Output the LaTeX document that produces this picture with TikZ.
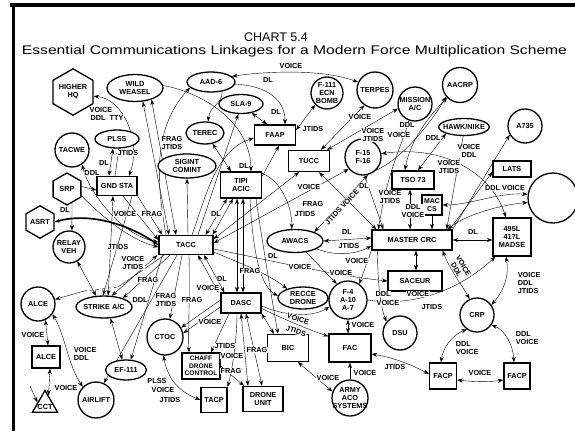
\documentclass[tikz,border=0pt]{standalone}
\usepackage{graphicx}
\usepackage{fontspec}
\setmainfont{Liberation Sans}
\usetikzlibrary{shapes.geometric,arrows.meta}
\pgfdeclarelayer{bg}
\pgfsetlayers{bg,main}
\begin{document}
\begin{tikzpicture}[x=1pt,y=-1pt,line width=0.9pt,
  >={Stealth[length=5.5pt,width=4pt]},
  every node/.style={inner sep=0pt,align=center,font=\fontsize{7.3}{8}\selectfont\bfseries},
  shp/.style={draw,line width=1.3pt,fill=white},
  box/.style={shp,rectangle},
  circ/.style={shp,circle},
  ell/.style={shp,ellipse},
  hexa/.style={shp,regular polygon,regular polygon sides=6,shape border rotate=30},
  tri/.style={shp,regular polygon,regular polygon sides=3},
  lab/.style={fill=white,inner sep=0.6pt},
  ttl/.style={font=\fontsize{12.5}{14}\selectfont\mdseries},
  boldline/.style={line width=1.7pt}
]
\path[use as bounding box] (0,0) rectangle (575,431);
\clip (0,0) rectangle (575,431);

% frame
\draw[line width=4pt] (10,5) -- (575,5);
\draw[line width=3pt] (13.5,3) -- (13.5,431);

% title
\node[ttl] (title1) at (276,37) {CHART 5.4};
\node[ttl] (title2) at (294.5,51) {\resizebox{545pt}{\height}{Essential Communications Linkages for a Modern Force Multiplication Scheme}};

% ---------- stations ----------
\node[hexa,minimum size=37pt] (hq) at (73,92) {HIGHER\\HQ};
\node[ell,minimum width=56pt,minimum height=27pt] (ww) at (135,88) {WILD\\WEASEL};
\node[ell,minimum width=44pt,minimum height=18pt] (plss) at (117,139) {PLSS};
\node[circ,minimum size=34pt] (tacwe) at (72,150) {TACWE};
\node[box,minimum width=40pt,minimum height=19pt] (gnd) at (117,186) {GND STA};
\node[hexa,minimum size=32pt] (srp) at (67,189) {SRP};
\node[hexa,minimum size=30pt] (asrt) at (40,222) {ASRT};
\node[circ,minimum size=32pt] (relay) at (69,247) {RELAY\\VEH};
\node[box,minimum width=54pt,minimum height=19pt] (tacc) at (186,245) {TACC};
\node[circ,minimum size=34pt] (alce) at (38,304) {ALCE};
\node[ell,minimum width=56pt,minimum height=22pt,inner sep=-2pt] (strike) at (104,307) {STRIKE A/C};
\node[box,minimum width=28pt,minimum height=22pt] (alcebox) at (46,357) {ALCE};
\node[tri,minimum size=29pt,label={[yshift=-2pt]center:CCT}] (cct) at (45,405) {};
\node[circ,minimum size=36pt] (airlift) at (96,400) {AIRLIFT};
\node[ell,minimum width=41pt,minimum height=20pt] (ef) at (126,370) {EF-111};
\node[circ,minimum size=36pt] (ctoc) at (165,337) {CTOC};
\node[box,minimum width=38pt,minimum height=26pt,font=\fontsize{6.6}{7.6}\selectfont\bfseries] (chaff) at (201,366) {CHAFF\\DRONE\\CONTROL};
\node[box,minimum width=26pt,minimum height=25pt] (tacp) at (214,400) {TACP};
\node[box,minimum width=40pt,minimum height=25pt] (drone) at (263,399) {DRONE\\UNIT};
\node[box,minimum width=40pt,minimum height=20pt] (dasc) at (241,303) {DASC};
\node[box,minimum width=41pt,minimum height=27pt] (bic) at (288,348) {BIC};
\node[box,minimum width=42pt,minimum height=28pt] (fac) at (350,348) {FAC};
\node[circ,minimum size=36pt,inner sep=-4pt] (army) at (350,398) {ARMY\\ACO\\SYSTEMS};
\node[ell,minimum width=50pt,minimum height=22pt] (recce) at (303,298) {RECCE\\DRONE};
\node[circ,minimum size=38pt] (f4) at (348,300) {F-4\\A-10\\A-7};
\node[ell,minimum width=56pt,minimum height=23pt] (awacs) at (295,241) {AWACS};
\node[box,minimum width=41pt,minimum height=26pt] (tipi) at (241,185) {TIPI\\ACIC};
\node[ell,minimum width=48pt,minimum height=20pt] (aad) at (211,82) {AAD-6};
\node[ell,minimum width=44pt,minimum height=19pt] (sla) at (241,104) {SLA-9};
\node[ell,minimum width=38pt,minimum height=22pt] (terec) at (205,133) {TEREC};
\node[ell,minimum width=58pt,minimum height=24pt] (sigint) at (187,166) {SIGINT\\COMINT};
\node[box,minimum width=41pt,minimum height=20pt] (faap) at (275,135) {FAAP};
\node[circ,minimum size=32pt,inner sep=-1pt] (f111) at (327,93) {F-111\\ECN\\BOMB};
\node[circ,minimum size=36pt] (terpes) at (375,90) {TERPES};
\node[box,minimum width=41pt,minimum height=21pt] (tucc) at (309,161) {TUCC};
\node[circ,minimum size=36pt] (f15) at (363,157) {F-15\\F-16};
\node[circ,minimum size=34pt,inner sep=-2pt] (mission) at (415,104) {MISSION\\A/C};
\node[circ,minimum size=35pt] (aacrp) at (460,85) {AACRP};
\node[ell,minimum width=50pt,minimum height=17pt,inner sep=-3pt] (hawk) at (464,127) {HAWK/NIKE};
\node[circ,minimum size=34pt] (a735) at (525,126) {A735};
\node[box,minimum width=38pt,minimum height=16pt] (lats) at (512,169) {LATS};
\node[box,minimum width=42pt,minimum height=18pt] (tso) at (413,180) {TSO 73};
\node[box,minimum width=20pt,minimum height=20pt,font=\fontsize{7}{7.6}\selectfont\bfseries] (mac) at (432,205) {MAC\\CS};
\node[box,minimum width=80pt,minimum height=20pt] (master) at (412,240) {MASTER CRC};
\node[box,minimum width=38pt,minimum height=38pt] (madse) at (512,237) {495L\\417L\\MADSE};
\node[box,minimum width=54pt,minimum height=20pt] (saceur) at (415,281) {SACEUR};
\node[circ,minimum size=50pt] (big) at (553,198) {};
\node[circ,minimum size=34pt] (crp) at (477,315) {CRP};
\node[circ,minimum size=34pt] (dsu) at (400,333) {DSU};
\node[box,minimum width=27pt,minimum height=26pt] (facp1) at (443,376) {FACP};
\node[box,minimum width=26pt,minimum height=26pt] (facp2) at (517,376) {FACP};

\coordinate (cctin) at (30,386);
\coordinate (d1) at (84,291);
\coordinate (d2) at (118,287);

% ---------- links ----------
\begin{pgfonlayer}{bg}
\fill[white] (0,0) rectangle (575,431);
% upper left group
\draw[<->] (hq.-12) .. controls (122,98) and (142,140) .. ([xshift=12pt]gnd.north);
\draw[<->] (ww.-60) -- ([xshift=-17pt]tacc.north);
\draw[<->] (ww.-35) -- ([xshift=-10pt]tacc.north);
\draw[->] ([xshift=-20pt]tacc.north) .. controls (158,190) and (150,130) .. (aad.-165);
\draw[<->] ([xshift=-4pt]plss.south) -- ([xshift=-8pt]gnd.north);
\draw[->] ([xshift=-2pt]gnd.north) -- ([xshift=2pt]plss.south);
\draw[<->] (tacwe.-55) .. controls (88,190) and (120,235) .. ([yshift=3pt]tacc.west);
\draw[->] (srp.10) -- ([yshift=-4pt]gnd.west);
\draw[->] (srp.-25) .. controls (100,215) and (130,240) .. ([yshift=-2pt]tacc.west);
\draw[<->,boldline] (asrt.east) .. controls (90,212) and (130,225) .. (tacc.west);
\draw[->] (srp.-70) -- (relay.80);
\draw[<->] (relay.-60) -- (strike.125);
\draw[->] (d1) -- (alce.15);
\draw[dashed] (d1) -- (d2);
\draw (d2) -- ([xshift=6pt]tacc.south west);
\draw[<->] ([xshift=-4pt]gnd.south) -- (strike.70);
\draw[->] ([xshift=15pt]gnd.south) -- (strike.95);
\draw[->] ([xshift=6pt]gnd.south) -- ([yshift=5pt]tacc.west);
\draw[->] (gnd.south east) -- ([xshift=4pt]tacc.north west);
\draw[<->] ([xshift=-1pt]tacc.south west) -- (strike.55);
\draw[->] ([xshift=-16pt]tacc.south) -- (strike.25);
\draw[->] ([xshift=-9pt]tacc.south) -- (airlift.65);
\draw[->] ([xshift=4pt]tacc.south west) -- (ef.65);
\draw[<->] (strike.-60) -- (ef.110);
\draw[->] ([xshift=-4pt]tacc.south) -- (ctoc.75);
\draw[->] ([xshift=3pt]tacc.south) .. controls (190,300) and (188,330) .. ([xshift=-12pt]chaff.north);
\draw[<->] ([xshift=12pt]tacc.south) -- ([xshift=-2pt]dasc.north west);
\draw[<->] ([xshift=18pt]tacc.south) -- ([xshift=4pt]dasc.north west);
\draw[<->] ([xshift=-14pt]tipi.south) -- ([xshift=-8pt]tacc.north east);
\draw[<->] ([xshift=-8pt]tipi.south) -- ([xshift=-1pt]tacc.north east);
\draw[->] ([xshift=2pt]tacc.north) -- (sigint.-90);
\draw[<->] (terec.-55) -- ([xshift=-10pt]tipi.north);
\draw[->] ([xshift=12pt]tacc.north) -- (sla.-105);
\draw[->] ([xshift=6pt]tacc.north) .. controls (205,200) and (215,150) .. ([yshift=-3pt]faap.west);
\draw[->] (ww.5) .. controls (200,92) and (250,120) .. ([xshift=10pt]tipi.north);
% top row
\draw[<->] (aad.15) .. controls (260,72) and (320,68) .. (terpes.155);
\draw[->] (aad.-5) .. controls (268,86) and (285,100) .. ([xshift=10pt]faap.north);
\draw[->] (aad.-40) .. controls (222,105) and (210,105) .. (terec.75);
\draw[<->] (sla.-40) -- ([xshift=-8pt]faap.north);
\draw[<->] ([yshift=5pt]faap.east) -- (f111.-135);
\draw[->] ([yshift=-5pt]tipi.north east) -- ([xshift=4pt]faap.south);
\draw[->] ([yshift=-2pt]tipi.north east) .. controls (280,180) and (292,205) .. (awacs.105);
\draw[<->] ([xshift=12pt]tucc.north) -- (terpes.-125);
\draw[<->] ([xshift=18pt]tucc.north) -- (mission.-165);
% centre
\draw[<->] ([yshift=6pt]tacc.east) -- ([xshift=-10pt]tucc.south);
\draw[<->] ([yshift=2pt]tacc.east) -- (f15.-140);
\draw[<->] (awacs.25) -- (f15.-75);
\draw[<->] (awacs.east) -- ([yshift=2pt]master.west);
\draw[->] ([yshift=-4pt]tacc.east) .. controls (260,258) and (330,275) .. (saceur.west);
\draw[->] (awacs.-20) .. controls (340,258) and (360,252) .. ([yshift=-6pt]master.west);
\draw[->] (awacs.-45) -- (f4.125);
\draw[->] (master.south west) -- (f4.55);
\draw[<->] ([xshift=10pt]tucc.south) -- ([xshift=5pt]master.north west);
\draw[->] (f15.-85) -- ([xshift=12pt]master.north west);
\draw[<->] ([xshift=-3pt]tso.south) -- ([xshift=-2pt]master.north);
\draw[->] (mac.south) -- ([xshift=20pt]master.north);
% upper right
\draw[<->] (hawk.-160) -- ([xshift=5pt]tso.north);
\draw[->] (hawk.-95) -- ([xshift=-6pt]master.north east);
\draw[->] (master.north east) -- (a735.-150);
\draw[->] ([xshift=-3pt]master.north east) -- ([yshift=-3pt]lats.west);
\draw[<->] (mission.-110) .. controls (400,150) and (388,170) .. ([xshift=7pt]master.north west);
\draw[<->] ([xshift=-8pt]tso.north) .. controls (410,140) and (430,115) .. (aacrp.-135);
\draw[->] (f15.-45) .. controls (400,160) and (430,125) .. (aacrp.-140);
\draw[<->] (f15.10) .. controls (440,145) and (490,170) .. ([xshift=-6pt]madse.north);
\draw[<->] (big.172) .. controls (500,192) and (470,205) .. (mac.east);
\draw[<->] (big.190) .. controls (500,205) and (465,215) .. ([xshift=-5pt]master.north east);
\draw[<->] (master.east) -- (madse.west |- master.east);
% lower right
\draw[<->] ([xshift=-6pt]madse.south) .. controls (510,280) and (500,295) .. (crp.35);
\draw[<->] ([xshift=-10pt]master.south east) .. controls (450,270) and (462,285) .. (crp.115);
\draw[->] (f4.0) .. controls (420,308) and (465,285) .. ([xshift=3pt]madse.south west);
\draw[->] ([xshift=6pt]master.south west) .. controls (378,285) and (380,305) .. (dsu.140);
\draw[<->] ([xshift=4pt]master.south) -- ([xshift=1pt]saceur.north);
\draw[<->] (f4.-90) -- ([xshift=-2pt]fac.north);
\draw[->] (army.90) -- (fac.south);
\draw[<->] ([xshift=10pt]bic.south) -- (army.160);
\draw[<->] ([yshift=-6pt]fac.east) .. controls (395,358) and (412,365) .. ([yshift=2pt]facp1.west);
\draw[<->] ([yshift=-4pt]facp1.east) .. controls (475,382) and (490,382) .. ([yshift=-4pt]facp2.west);
\draw[<->] ([xshift=-2pt]facp1.north) .. controls (443,348) and (452,335) .. (crp.-125);
\draw[<->] ([xshift=-3pt]facp2.north) .. controls (513,345) and (505,330) .. (crp.-35);
% lower centre
\draw[->] ([yshift=3pt]dasc.west) -- (ctoc.30);
\draw[->] ([yshift=-4pt]dasc.west) -- (ctoc.12);
\draw[->] ([xshift=-12pt]dasc.south) -- ([xshift=10pt]chaff.north);
\draw[->] ([xshift=-4pt]dasc.south) .. controls (237,340) and (232,370) .. (tacp.north east);
\draw[<->] (dasc.south) -- ([xshift=-15pt]drone.north);
\draw[<->] ([xshift=5pt]dasc.south) -- ([xshift=-1pt]drone.north);
\draw[->] (chaff.east) -- ([xshift=-19pt]drone.north);
\draw[<->] (ctoc.-95) .. controls (168,380) and (180,392) .. (tacp.west);
\draw[->] ([yshift=-7pt]tacc.east) .. controls (245,265) and (270,275) .. (recce.150);
\draw[<->] ([xshift=-4pt]tipi.south) -- ([xshift=-4pt]dasc.north);
\draw[<->] ([xshift=2pt]tipi.south) -- ([xshift=2pt]dasc.north);
\draw[->] ([xshift=9pt]tipi.south) .. controls (252,240) and (258,285) .. (recce.175);
\draw[->] ([xshift=15pt]tipi.south) .. controls (262,240) and (272,300) .. ([xshift=-10pt]bic.north);
\draw[<->] (dasc.south east) -- ([xshift=-14pt]bic.north);
\draw[->] ([yshift=-3pt]dasc.east) .. controls (290,318) and (315,316) .. (f4.-160);
\draw[->] (dasc.-15) .. controls (290,322) and (310,330) .. ([yshift=-3pt]fac.north west);
% far left
\draw[<->] (alce.-65) -- ([xshift=2pt]alcebox.north);
\draw[<->] ([xshift=4pt]alcebox.south) -- (cct.70);
\draw[->] (cctin) -- (cct.160);
\draw[<->] (alce.-35) .. controls (65,335) and (68,365) .. (airlift.135);
\end{pgfonlayer}

% ---------- link labels ----------
\node[lab] (l1) at (101,110) {VOICE};
\node[lab] (l2) at (107,118) {DDL\ \ TTY};
\node[lab,align=left] (l3) at (172,143) {FRAG\\JTIDS};
\node[lab] (l4) at (128,153) {JTIDS};
\node[lab] (l5) at (104,163) {DL};
\node[lab] (l6) at (92,173) {DDL};
\node[lab] (l7) at (125,214) {VOICE};
\node[lab] (l8) at (152,214) {FRAG};
\node[lab] (l9) at (65,210) {DL};
\node[lab] (l10) at (118,247) {JTIDS};
\node[lab] (l11) at (133,263) {VOICE\\JTIDS};
\node[lab] (l12) at (148,280) {FRAG};
\node[lab] (l13) at (140,300) {DDL};
\node[lab] (l14) at (166,300) {FRAG\\JTIDS};
\node[lab] (l15) at (192,300) {FRAG};
\node[lab] (l16) at (216,214) {DL};
\node[lab] (l17) at (244,166) {DL};
\node[lab] (l18) at (222,279) {DL};
\node[lab] (l19) at (208,288) {VOICE};
\node[lab] (l20) at (250,271) {FRAG};
\node[lab] (l21) at (268,80) {DL};
\node[lab] (l22) at (291,66) {VOICE};
\node[lab] (l23) at (276,112) {DL};
\node[lab] (l24) at (313,129) {JTIDS};
\node[lab] (l25) at (360,117) {VOICE};
\node[lab] (l26) at (373,135) {VOICE\\JTIDS};
\node[lab] (l27) at (309,187) {VOICE};
\node[lab] (l28) at (313,204) {FRAG};
\node[lab] (l29) at (305,214) {JTIDS};
\node[lab,rotate=47] (l30) at (342,207) {JTIDS VOICE};
\node[lab] (l31) at (347,232) {DL};
\node[lab] (l32) at (349,246) {JTIDS};
\node[lab] (l33) at (273,256) {DL};
\node[lab] (l34) at (300,267) {VOICE};
\node[lab] (l35) at (357,261) {VOICE};
\node[lab] (l36) at (341,273) {VOICE};
\node[lab] (l37) at (364,186) {DL};
\node[lab] (l38) at (407,125) {DDL};
\node[lab] (l39) at (399,135) {VOICE};
\node[lab] (l40) at (433,138) {DDL};
\node[lab] (l41) at (469,151) {VOICE\\DDL};
\node[lab] (l42) at (449,167) {VOICE\\JTIDS};
\node[lab] (l43) at (505,188) {DDL VOICE};
\node[lab] (l44) at (390,197) {VOICE\\JTIDS};
\node[lab] (l45) at (413,211) {DDL\\VOICE};
\node[lab] (l46) at (473,232) {DL};
\node[lab,rotate=-60] (l47) at (460,268) {VOICE\\DDL};
\node[lab,anchor=west,align=left] (l48) at (517,283) {VOICE\\DDL\\JTIDS};
\node[lab] (l49) at (383,294) {DDL};
\node[lab] (l50) at (388,303) {VOICE};
\node[lab] (l51) at (418,294) {VOICE};
\node[lab] (l52) at (432,307) {JTIDS};
\node[lab] (l53) at (363,325) {VOICE};
\node[lab] (l54) at (365,373) {VOICE};
\node[lab,rotate=-18] (l55) at (298,319) {VOICE};
\node[lab,rotate=-18] (l56) at (296,331) {JTIDS};
\node[lab] (l57) at (328,378) {VOICE};
\node[lab] (l58) at (395,367) {JTIDS};
\node[lab] (l59) at (480,373) {VOICE};
\node[lab,anchor=west,align=left] (l60) at (455,348) {DDL\\VOICE};
\node[lab,anchor=west,align=left] (l61) at (515,338) {DDL\\VOICE};
\node[lab] (l62) at (225,346) {JTIDS};
\node[lab] (l63) at (232,356) {VOICE};
\node[lab] (l64) at (231,371) {FRAG};
\node[lab] (l65) at (257,350) {FRAG};
\node[lab] (l66) at (210,322) {VOICE};
\node[lab] (l67) at (157,381) {PLSS};
\node[lab] (l68) at (163,390) {VOICE};
\node[lab] (l69) at (170,400) {JTIDS};
\node[lab] (l70) at (33,335) {VOICE};
\node[lab] (l71) at (66,388) {VOICE};
\node[lab,anchor=west,align=left] (l72) at (73,354) {VOICE\\DDL};
\end{tikzpicture}
\end{document}
